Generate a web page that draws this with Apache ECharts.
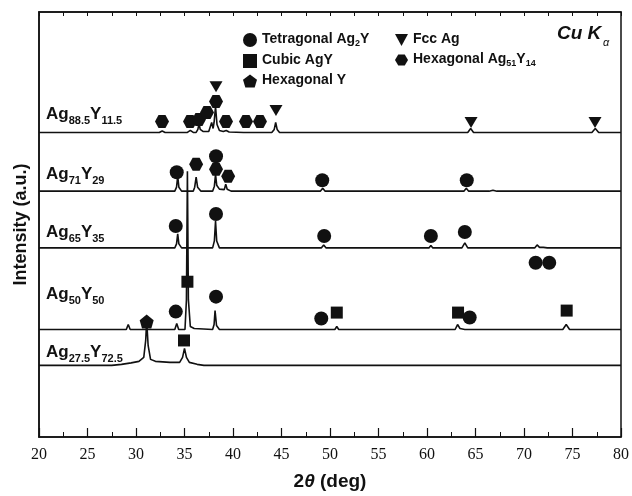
<!DOCTYPE html>
<html>
<head>
<meta charset="utf-8">
<script src="https://cdn.jsdelivr.net/npm/echarts@6/dist/echarts.min.js"></script>
<style>
  html, body { margin: 0; padding: 0; background: #fff; }
  #main { width: 632px; height: 496px; }
</style>
</head>
<body>
<div id="main"></div>
<script>
// XRD patterns, each point is [2theta, intensity above that pattern's own baseline]
const sampleNames = ['Ag88.5Y11.5', 'Ag71Y29', 'Ag65Y35', 'Ag50Y50', 'Ag27.5Y72.5'];
const baselines = [306, 247, 190, 108, 72]; // vertical stacking of the patterns

const patAg885 = [[20,0],[32.4,0],[32.7,1.5],[33,0],[35.3,0],[35.6,2],[35.9,0],[36.2,0],[36.38,3],[36.5,9],[36.62,3],
  [36.9,1],[37.5,1],[37.68,3],[37.8,10],[37.95,4],[38.05,10],[38.2,26],[38.35,8],[38.6,2],[39.0,1],[39.3,2],[39.6,0.5],
  [41.1,0],[41.3,1.5],[41.5,0],[42.6,0],[42.8,1.5],[43,0],[44.0,0],[44.25,3],[44.4,10],[44.55,3],[44.8,0],
  [64.2,0],[64.5,4],[64.8,0],[77.0,0],[77.35,4],[77.7,0],[80,0]];
const patAg71 = [[20,0],[29.2,0],[29.3,1],[29.4,0],[34.0,0],[34.18,4],[34.3,15],[34.42,4],[34.7,0],[35.9,0],[36.05,4],
  [36.2,14],[36.35,4],[36.7,0],[37.9,0],[38.08,5],[38.2,17],[38.32,6],[38.6,2],[39.1,1.5],[39.25,7],[39.4,2],[39.8,0],
  [49.0,0],[49.25,3],[49.5,0],[50.8,0],[51.0,1.5],[51.2,0],[63.8,0],[64.05,3],[64.3,0],[66.4,0],[66.6,2],[66.8,1],
  [67.0,3],[67.2,0],[80,0]];
const patAg65 = [[20,0],[34.0,0],[34.18,4],[34.3,14],[34.42,4],[34.7,0],[37.9,0],[38.08,7],[38.2,27],[38.32,7],[38.6,0],
  [49.1,0],[49.35,3],[49.6,0],[60.2,0],[60.4,2.5],[60.6,0],[63.6,0],[63.9,5],[64.2,0],[71.1,0],[71.35,3],[71.6,0.5],
  [72.0,0.5],[72.2,2],[72.4,0],[80,0]];
const patAg50 = [[20,0],[29.0,0],[29.2,5],[29.4,0],[34.0,0],[34.2,6],[34.4,0],[35.05,0],[35.2,30],[35.3,159],[35.4,30],
  [35.6,3],[36,1],[37.9,0],[38.05,5],[38.15,19],[38.3,4],[38.6,0],[50.5,0],[50.7,3],[50.9,0],[62.9,0],[63.15,5],
  [63.4,1],[63.9,0],[74.0,0],[74.35,5],[74.7,0],[80,0]];
const patAg275 = [[20,0],[27.5,0],[28.5,1],[29.5,2.5],[30.3,4],[30.8,8],[31.0,25],[31.1,45],[31.25,20],[31.5,6],[32,4],
  [33.5,3],[34.5,3],[34.8,8],[35.0,17],[35.2,8],[35.5,3],[36.3,1],[37,0],[64.5,0],[64.7,1.5],[64.9,0],[80,0]];
const patterns = [patAg885, patAg71, patAg65, patAg50, patAg275];

// phase markers [2theta, height on the same scale]
const tetragonalAg2Y = [[34.2,266],[38.25,282],[49.2,258],[64.1,258],
  [34.1,212],[38.25,224],[49.4,202],[60.4,202],[63.9,206],[71.2,175],[72.6,175],
  [34.1,126],[38.25,141],[49.1,119],[64.4,120]];
const cubicAgY = [[35.3,156],[50.7,125],[63.2,125],[74.4,127],[34.95,97]];
const hexagonalY = [[31.1,116]];
const fccAg = [[38.25,352],[44.43,328],[64.54,316],[77.32,316]];
const hexagonalAg51Y14 = [[32.68,317],[35.57,317],[36.49,319],[37.32,326],[38.25,337],[39.28,317],[41.34,317],[42.78,317],
  [36.2,274],[38.25,269],[39.5,262]];

const xTicks = [20, 25, 30, 35, 40, 45, 50, 55, 60, 65, 70, 75, 80];

const ink = '#111';
const sans = 'Liberation Sans, Arial, sans-serif';
const hexPath = 'path://M0,5 L3,0 L9,0 L12,5 L9,10 L3,10 Z';
const pentPath = 'path://M6,0 L12,4.5 L10,11 L2,11 L0,4.5 Z';
const triDown = 'path://M0,0 L12,0 L6,11 Z';

const myChart = echarts.init(document.getElementById('main'));

const lineSeries = patterns.map((pts, i) => ({
  name: sampleNames[i],
  type: 'line',
  data: pts.map(p => [p[0], p[1] + baselines[i]]),
  showSymbol: false,
  lineStyle: { color: ink, width: 1.6 },
  z: 2
}));

function markerSeries(name, data, symbol, size) {
  return { name, type: 'scatter', data, symbol, symbolSize: size, itemStyle: { color: ink, opacity: 1 }, z: 3 };
}

const legendRich = {
  t: { fontFamily: sans, fontSize: 14, fontWeight: 'bold', color: ink, lineHeight: 16, verticalAlign: 'top' },
  s: { fontFamily: sans, fontSize: 9, fontWeight: 'bold', color: ink, lineHeight: 10, padding: [7, 0, 0, 0], verticalAlign: 'top' }
};
const legendText = {
  'Tetragonal Ag2Y': '{t|Tetragonal Ag}{s|2}{t|Y}',
  'Cubic AgY': '{t|Cubic AgY}',
  'Hexagonal Y': '{t|Hexagonal Y}',
  'Fcc Ag': '{t|Fcc Ag}',
  'Hexagonal Ag51Y14': '{t|Hexagonal Ag}{s|51}{t|Y}{s|14}'
};

// sample label: Ag{x}Y{y}
const labelParts = [['88.5', '11.5'], ['71', '29'], ['65', '35'], ['50', '50'], ['27.5', '72.5']];
const labelTops = [106, 166, 224, 286, 344];
const labelRich = {
  a: { fontFamily: sans, fontSize: 17, fontWeight: 'bold', fill: ink, lineHeight: 17, verticalAlign: 'top' },
  s: { fontFamily: sans, fontSize: 11, fontWeight: 'bold', fill: ink, lineHeight: 11, padding: [9, 0, 0, 0], verticalAlign: 'top' }
};

myChart.setOption({
  animation: false,
  backgroundColor: '#fff',
  grid: { left: 39, right: 11, top: 12, bottom: 57, show: true, borderColor: ink, borderWidth: 1.5 },
  legend: [
    {
      orient: 'vertical', left: 238, top: 27, itemWidth: 14, itemHeight: 14, itemGap: 5,
      data: [
        { name: 'Tetragonal Ag2Y', icon: 'circle' },
        { name: 'Cubic AgY', icon: 'rect' },
        { name: 'Hexagonal Y', icon: pentPath }
      ],
      formatter: n => legendText[n], textStyle: { rich: legendRich }
    },
    {
      orient: 'vertical', left: 390, top: 27, itemWidth: 13, itemHeight: 12, itemGap: 6,
      data: [
        { name: 'Fcc Ag', icon: triDown },
        { name: 'Hexagonal Ag51Y14', icon: hexPath }
      ],
      formatter: n => legendText[n], textStyle: { rich: legendRich }
    }
  ],
  xAxis: [
    {
      type: 'value', min: 20, max: 80, interval: 5, position: 'bottom',
      name: '{b|2}{i|θ}{b| (deg)}', nameLocation: 'middle', nameGap: 35,
      nameTextStyle: {
        rich: {
          b: { fontFamily: sans, fontSize: 19, fontWeight: 'bold', color: ink },
          i: { fontFamily: sans, fontSize: 19, fontWeight: 'bold', fontStyle: 'italic', color: ink }
        }
      },
      axisLine: { show: true, lineStyle: { color: ink, width: 1.5 } },
      axisTick: { inside: true, length: 9, lineStyle: { color: ink, width: 1.2 } },
      minorTick: { show: true, splitNumber: 2, length: 5, lineStyle: { color: ink, width: 1 } },
      axisLabel: {
        color: ink, fontFamily: 'Liberation Serif, Times New Roman, serif', fontSize: 16, margin: 10,
        customValues: xTicks
      },
      splitLine: { show: false }
    },
    {
      type: 'value', min: 20, max: 80, interval: 2.5, position: 'top',
      axisLine: { show: true, lineStyle: { color: ink, width: 1.5 } },
      axisTick: { inside: true, length: 4, lineStyle: { color: ink, width: 1 } },
      axisLabel: { show: false },
      splitLine: { show: false }
    }
  ],
  yAxis: {
    type: 'value', min: 0, max: 427,
    name: 'Intensity (a.u.)', nameLocation: 'middle', nameGap: 9,
    nameTextStyle: { fontFamily: sans, fontSize: 18, fontWeight: 'bold', color: ink },
    axisLine: { show: true, lineStyle: { color: ink, width: 1.5 } },
    axisTick: { show: false },
    axisLabel: { show: false },
    splitLine: { show: false }
  },
  graphic: [
    ...labelParts.map((p, i) => ({
      type: 'text', left: 46, top: labelTops[i], z: 10,
      style: { text: `{a|Ag}{s|${p[0]}}{a|Y}{s|${p[1]}}`, rich: labelRich }
    })),
    {
      type: 'text', left: 557, top: 24, z: 10,
      style: { text: 'Cu K', font: 'italic bold 19px ' + sans, fill: ink }
    },
    {
      type: 'text', left: 603, top: 37, z: 10,
      style: { text: 'α', font: 'italic 11px ' + sans, fill: ink }
    }
  ],
  series: [
    ...lineSeries,
    markerSeries('Tetragonal Ag2Y', tetragonalAg2Y, 'circle', 14),
    markerSeries('Cubic AgY', cubicAgY, 'rect', 12),
    markerSeries('Hexagonal Y', hexagonalY, pentPath, 14),
    markerSeries('Fcc Ag', fccAg, triDown, [13, 11]),
    markerSeries('Hexagonal Ag51Y14', hexagonalAg51Y14, hexPath, [14, 13])
  ]
});
</script>
</body>
</html>
